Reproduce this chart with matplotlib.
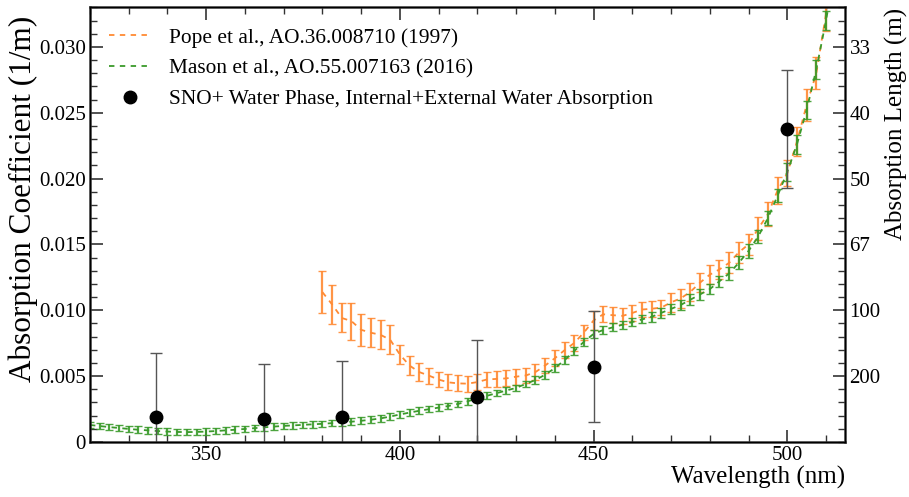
import numpy as np
import matplotlib
matplotlib.use("Agg")
import matplotlib.pyplot as plt
from matplotlib.ticker import MultipleLocator

plt.rcParams['font.family'] = ['Liberation Serif', 'DejaVu Serif']

# Pope & Fry (1997), 1/m
pope_wl = [380, 382.5, 385, 387.5, 390, 392.5, 395, 397.5, 400, 402.5, 405, 407.5,
           410, 412.5, 415, 417.5, 420, 422.5, 425, 427.5, 430, 432.5, 435, 437.5,
           440, 442.5, 445, 447.5, 450, 452.5, 455, 457.5, 460, 462.5, 465, 467.5,
           470, 472.5, 475, 477.5, 480, 482.5, 485, 487.5, 490, 492.5, 495, 497.5,
           500, 502.5, 505, 507.5, 510, 512.5]
pope_a = [0.01137, 0.01044, 0.00941, 0.00917, 0.00851, 0.00829, 0.00813, 0.00775,
          0.00663, 0.00579, 0.00530, 0.00503, 0.00473, 0.00452, 0.00444, 0.00442,
          0.00454, 0.00474, 0.00478, 0.00482, 0.00495, 0.00504, 0.00530, 0.00580,
          0.00635, 0.00696, 0.00751, 0.00830, 0.00922, 0.00969, 0.00962, 0.00957,
          0.00979, 0.01005, 0.01011, 0.01020, 0.01060, 0.01090, 0.01140, 0.01210,
          0.01270, 0.01310, 0.01360, 0.01440, 0.01500, 0.01620, 0.01730, 0.01910,
          0.02040, 0.02280, 0.02560, 0.02800, 0.03250, 0.03720]
pope_err = [0.0016, 0.0015, 0.0011, 0.0014, 0.0012, 0.0011, 0.0011, 0.0011,
            0.0007, 0.0007, 0.0007, 0.0006, 0.0006, 0.0006, 0.0006, 0.0006,
            0.0006, 0.0006, 0.0006, 0.0006, 0.0006, 0.0006, 0.0006, 0.0006,
            0.0006, 0.0006, 0.0006, 0.0006, 0.0007, 0.0006, 0.0006, 0.0006,
            0.0006, 0.0006, 0.0006, 0.0006, 0.0007, 0.0007, 0.0007, 0.0007,
            0.0007, 0.0007, 0.0008, 0.0008, 0.0008, 0.0009, 0.0009, 0.0010,
            0.0010, 0.0011, 0.0012, 0.0012, 0.0013, 0.0014]

# Mason et al. (2016), 1/m
mason_wl = [320, 322.5, 325, 327.5, 330, 332.5, 335, 337.5, 340, 342.5, 345, 347.5,
            350, 352.5, 355, 357.5, 360, 362.5, 365, 367.5, 370, 372.5, 375, 377.5,
            380, 382.5, 385, 387.5, 390, 392.5, 395, 397.5, 400, 402.5, 405, 407.5,
            410, 412.5, 415, 417.5, 420, 422.5, 425, 427.5, 430, 432.5, 435, 437.5,
            440, 442.5, 445, 447.5, 450, 452.5, 455, 457.5, 460, 462.5, 465, 467.5,
            470, 472.5, 475, 477.5, 480, 482.5, 485, 487.5, 490, 492.5, 495, 497.5,
            500, 502.5, 505, 507.5, 510, 512.5]
mason_a = [0.00128, 0.00120, 0.00112, 0.00105, 0.00098, 0.00092, 0.00087, 0.00082,
           0.00078, 0.00075, 0.00074, 0.00075, 0.00078, 0.00082, 0.00087, 0.00092,
           0.00098, 0.00104, 0.00110, 0.00116, 0.00121, 0.00125, 0.00129, 0.00133,
           0.00137, 0.00142, 0.00147, 0.00153, 0.00160, 0.00168, 0.00178, 0.00192,
           0.00208, 0.00222, 0.00236, 0.00248, 0.00260, 0.00272, 0.00288, 0.00308,
           0.00330, 0.00350, 0.00370, 0.00390, 0.00410, 0.00440, 0.00470, 0.00510,
           0.00560, 0.00620, 0.00690, 0.00760, 0.00820, 0.00850, 0.00870, 0.00890,
           0.00910, 0.00930, 0.00950, 0.00980, 0.01010, 0.01040, 0.01080, 0.01120,
           0.01160, 0.01220, 0.01280, 0.01360, 0.01450, 0.01560, 0.01700, 0.01870,
           0.02050, 0.02260, 0.02520, 0.02830, 0.03200, 0.03620]
mason_err = [0.00025] * 46 + [0.0003] * 12 + [0.0004] * 8 + [0.0005] * 6 + [0.0007] * 6

# SNO+ water phase
sno_wl = [337, 365, 385, 420, 450, 500]
sno_a = [0.00188, 0.00175, 0.00185, 0.00340, 0.00572, 0.02375]
sno_err = [0.0049, 0.0042, 0.0043, 0.0043, 0.0042, 0.0045]

orange = '#ff8a33'
green = '#3a9a2a'

fig = plt.figure(figsize=(9.09, 4.97), dpi=100)
ax = fig.add_axes([0.099, 0.111, 0.831, 0.874])

ax.errorbar(pope_wl, pope_a, yerr=pope_err, fmt='none', ecolor=orange,
            elinewidth=1.6, capsize=3, capthick=1.0, alpha=0.9)
ax.plot(pope_wl, pope_a, '--', color=orange, lw=1.3, dashes=(3, 3),
        label='Pope et al., AO.36.008710 (1997)')
ax.errorbar(mason_wl, mason_a, yerr=mason_err, fmt='none', ecolor=green,
            elinewidth=1.6, capsize=3, capthick=1.0, alpha=0.9)
ax.plot(mason_wl, mason_a, '--', color=green, lw=1.3, dashes=(3, 3),
        label='Mason et al., AO.55.007163 (2016)')
ax.errorbar(sno_wl, sno_a, yerr=sno_err, fmt='none', ecolor='#555555',
            elinewidth=1.0, capsize=4, capthick=1.0)
ax.plot(sno_wl, sno_a, 'o', color='black', ms=9,
        label='SNO+ Water Phase, Internal+External Water Absorption')

ax.set_xlim(320, 515)
ax.set_ylim(0, 0.033)
ax.xaxis.set_major_locator(MultipleLocator(50))
ax.xaxis.set_minor_locator(MultipleLocator(10))
ax.yaxis.set_minor_locator(MultipleLocator(0.001))
ax.set_yticks([0, 0.005, 0.010, 0.015, 0.020, 0.025, 0.030])
ax.set_yticklabels(['0', '0.005', '0.010', '0.015', '0.020', '0.025', '0.030'])
ax.tick_params(which='both', direction='in', top=True, labelsize=15, pad=3,
               color='#333333')
ax.tick_params(which='major', length=9, width=1.2)
ax.tick_params(which='minor', length=5, width=1.0)
for s in ax.spines.values():
    s.set_linewidth(1.8)
    s.set_color('#333333')

ax.set_xlabel('Wavelength (nm)', loc='right', fontsize=18, labelpad=1)
ax.set_ylabel('Absorption Coefficient (1/m)', fontsize=22.5, labelpad=1)
ax.yaxis.set_label_coords(-0.069, 0.98)
ax.yaxis.label.set_va('bottom')
ax.yaxis.label.set_ha('right')

ax2 = ax.twinx()
ax2.set_ylim(ax.get_ylim())
rt = [0.005, 0.010, 0.015, 0.020, 0.025, 0.030]
ax2.set_yticks(rt)
ax2.set_yticklabels(['%d' % round(1 / v) for v in rt])
ax2.yaxis.set_minor_locator(MultipleLocator(0.001))
ax2.tick_params(which='both', direction='in', labelsize=15, pad=3, color='#333333')
ax2.tick_params(which='major', length=9, width=1.2)
ax2.tick_params(which='minor', length=5, width=1.0)
ax2.set_ylabel('Absorption Length (m)', loc='top', fontsize=18, labelpad=3)

ax.legend(loc='upper left', frameon=False, fontsize=15.4, handlelength=1.95,
          borderaxespad=0.5, labelspacing=0.5, handletextpad=0.85,
          bbox_to_anchor=(0.0, 0.997))

fig.savefig('out.png', dpi=100)
